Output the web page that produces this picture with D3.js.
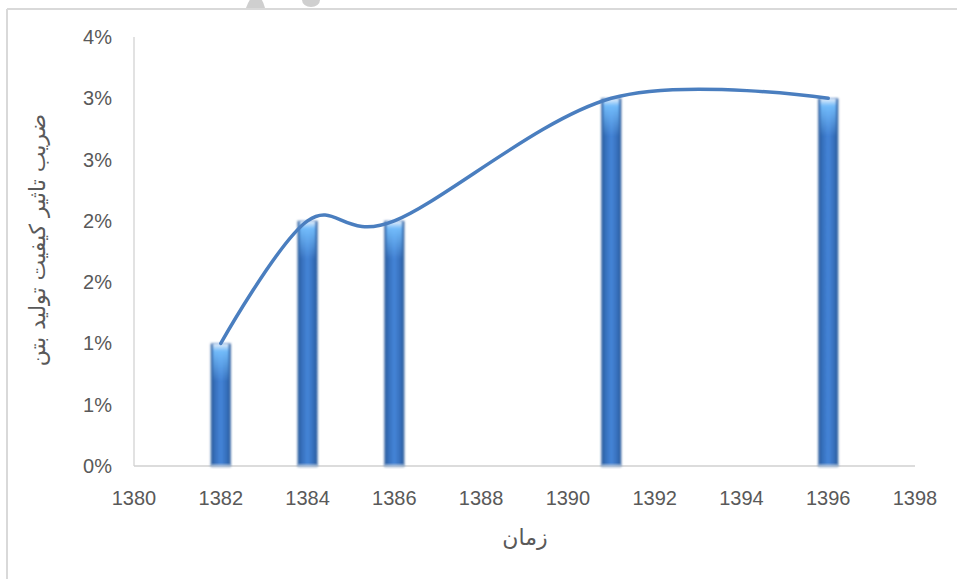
<!DOCTYPE html>
<meta charset="utf-8">

<head>
    <title>Quality factor chart</title>
    <script src="https://cdn.jsdelivr.net/npm/d3@7"></script>
    <style>
        body {
            margin: 0;
            background-color: white;
        }

        #svg {
            display: block;
        }

        .tick-label {
            font-family: 'Liberation Sans', 'Open Sans', sans-serif;
            font-size: 20px;
            fill: #595959;
        }

        .axis-title {
            font-family: 'DejaVu Sans', 'Noto Sans', sans-serif;
            font-size: 22px;
            fill: #595959;
        }
    </style>
</head>

<body>
    <svg id="svg"></svg>

    <script>
        // data
        const years = [1382, 1384, 1386, 1391, 1396]
        const values = [0.01, 0.02, 0.02, 0.03, 0.03]
        const xTicks = [1380, 1382, 1384, 1386, 1388, 1390, 1392, 1394, 1396, 1398]
        const yTicks = [0, 0.005, 0.01, 0.015, 0.02, 0.025, 0.03, 0.035]
        const xTitle = 'زمان'
        const yTitle = 'ضریب تاثیر کیفیت تولید بتن'

        const width = 957
        const height = 579

        let svg = d3.select('#svg')
            .attr('width', width)
            .attr('height', height)

        // scales
        let x = d3.scaleLinear().domain([1380, 1398]).range([134, 915])
        let y = d3.scaleLinear().domain([0, 0.035]).range([466, 37])

        // gradients for the bars
        let defs = svg.append('defs')
        let side = defs.append('linearGradient')
            .attr('id', 'barSide')
            .attr('x1', '0%').attr('x2', '100%')
            .attr('y1', '0%').attr('y2', '0%')
        side.append('stop').attr('offset', '0%').attr('stop-color', '#2a5a98')
        side.append('stop').attr('offset', '22%').attr('stop-color', '#3670bd')
        side.append('stop').attr('offset', '50%').attr('stop-color', '#4685d8')
        side.append('stop').attr('offset', '78%').attr('stop-color', '#3670bd')
        side.append('stop').attr('offset', '100%').attr('stop-color', '#2a5a98')

        let topGlow = defs.append('linearGradient')
            .attr('id', 'barTop')
            .attr('x1', '0%').attr('x2', '0%')
            .attr('y1', '0%').attr('y2', '100%')
        topGlow.append('stop').attr('offset', '0%').attr('stop-color', '#ffffff').attr('stop-opacity', 0.9)
        topGlow.append('stop').attr('offset', '20%').attr('stop-color', '#78c2ff').attr('stop-opacity', 0.9)
        topGlow.append('stop').attr('offset', '100%').attr('stop-color', '#78c2ff').attr('stop-opacity', 0)

        defs.append('filter')
            .attr('id', 'soft')
            .append('feGaussianBlur')
            .attr('stdDeviation', 0.8)

        // frame of the chart area (only top and left edges visible)
        svg.append('line')
            .attr('x1', 7).attr('x2', width).attr('y1', 9).attr('y2', 9)
            .attr('stroke', '#d9d9d9').attr('stroke-width', 2)
        svg.append('line')
            .attr('x1', 7).attr('x2', 7).attr('y1', 9).attr('y2', height)
            .attr('stroke', '#d9d9d9').attr('stroke-width', 2)

        // faint watermark shapes peeking over the top edge
        svg.append('path')
            .attr('d', 'M246,8 Q250,-4 256,-4 Q262,-4 265,8 Z')
            .attr('fill', '#cfcfcf')
        svg.append('path')
            .attr('d', 'M302,0 A9,7 0 0 0 320,0 Z')
            .attr('fill', '#cfcfcf')

        // axes
        svg.append('line')
            .attr('x1', x(1380)).attr('x2', x(1380))
            .attr('y1', y(0.035)).attr('y2', y(0))
            .attr('stroke', '#d9d9d9').attr('stroke-width', 1.5)
        svg.append('line')
            .attr('x1', x(1380)).attr('x2', x(1398))
            .attr('y1', y(0)).attr('y2', y(0))
            .attr('stroke', '#d0d0d0').attr('stroke-width', 1.5)

        svg.selectAll('.ytick')
            .data(yTicks)
            .enter()
            .append('text')
            .attr('class', 'tick-label')
            .attr('x', 112)
            .attr('y', (d) => y(d) + 7)
            .attr('text-anchor', 'end')
            .text((d) => Math.round(d * 100) + '%')

        svg.selectAll('.xtick')
            .data(xTicks)
            .enter()
            .append('text')
            .attr('class', 'tick-label')
            .attr('x', (d) => x(d))
            .attr('y', 505)
            .attr('text-anchor', 'middle')
            .text((d) => d)

        // bars
        const barW = 20
        let bars = svg.append('g')
        bars.selectAll('.bar')
            .data(years)
            .enter()
            .append('rect')
            .attr('x', (d) => x(d) - barW / 2)
            .attr('y', (d, i) => y(values[i]))
            .attr('width', barW)
            .attr('height', (d, i) => y(0) - y(values[i]))
            .attr('fill', 'url(#barSide)')
            .attr('filter', 'url(#soft)')
        bars.selectAll('.glow')
            .data(years)
            .enter()
            .append('rect')
            .attr('x', (d) => x(d) - barW / 2 + 2)
            .attr('y', (d, i) => y(values[i]))
            .attr('width', barW - 4)
            .attr('height', 38)
            .attr('fill', 'url(#barTop)')
            .attr('filter', 'url(#soft)')
        bars.selectAll('.foot')
            .data(years)
            .enter()
            .append('rect')
            .attr('x', (d) => x(d) - barW / 2)
            .attr('y', y(0) - 2)
            .attr('width', barW)
            .attr('height', 4)
            .attr('fill', '#b8c6d8')
            .attr('opacity', 0.6)
            .attr('filter', 'url(#soft)')

        // smooth line
        let line = d3.line()
            .x((d) => x(d))
            .y((d, i) => y(values[i]))
            .curve(d3.curveCardinal.tension(0))
        svg.append('path')
            .datum(years)
            .attr('d', line)
            .attr('fill', 'none')
            .attr('stroke', '#4a7ebf')
            .attr('stroke-width', 3.5)
            .attr('stroke-linecap', 'round')

        // axis titles
        svg.append('text')
            .attr('class', 'axis-title')
            .attr('x', 525)
            .attr('y', 545)
            .attr('text-anchor', 'middle')
            .attr('direction', 'rtl')
            .text(xTitle)
        svg.append('text')
            .attr('class', 'axis-title')
            .attr('transform', 'translate(45,240) rotate(-90)')
            .attr('text-anchor', 'middle')
            .attr('direction', 'rtl')
            .text(yTitle)
    </script>
</body>

</html>
